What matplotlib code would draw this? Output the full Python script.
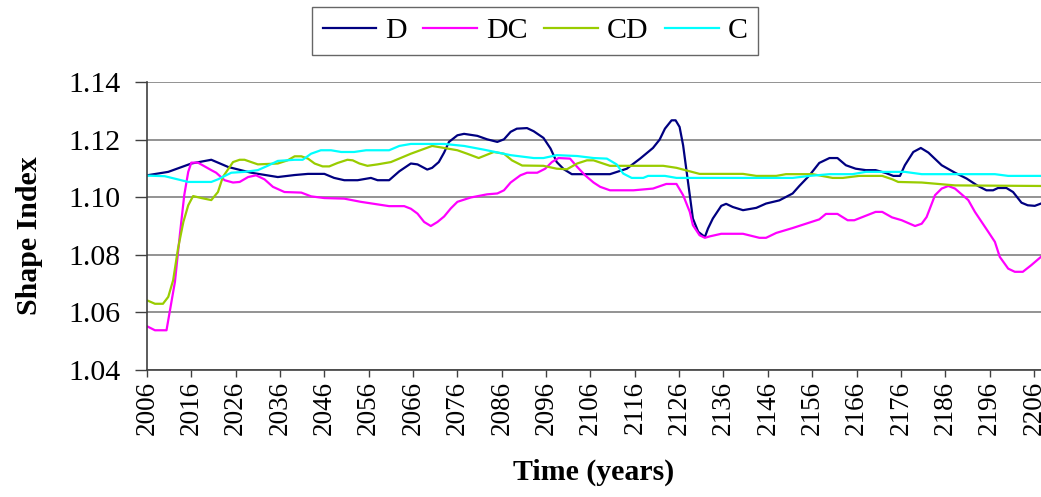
import matplotlib
matplotlib.use("Agg")
import matplotlib.pyplot as plt
from matplotlib.ticker import FormatStrFormatter, MultipleLocator

plt.rcParams["font.family"] = ["Liberation Serif", "DejaVu Serif"]

# Shape index trajectories for the four scenarios
d_years = [2006, 2010.8, 2016, 2020.5, 2024.3, 2029.5, 2035.5, 2039.3, 2042.3, 2046,
           2048.2, 2050.5, 2053.5, 2056.5, 2058, 2060.6, 2062.9, 2065.5, 2067, 2069.2,
           2070.3, 2071.8, 2073, 2074.1, 2076, 2077.5, 2080.5, 2082.7, 2085, 2086.5,
           2088, 2089.4, 2091.7, 2093.2, 2095.4, 2097, 2098.4, 2100, 2101.8, 2110.4,
           2114.2, 2117.2, 2120.1, 2121.6, 2122.8, 2124.3, 2125.2, 2126.1, 2126.9, 2127.6,
           2128.4, 2129.1, 2130.3, 2131.8, 2132.5, 2133.6, 2135.5, 2136.6, 2138.1, 2140.4,
           2143.4, 2145.6, 2148.6, 2151.6, 2153.1, 2155.4, 2157.6, 2159.9, 2161.7, 2163.6,
           2165.8, 2168.1, 2170.3, 2172.6, 2174.3, 2175.8, 2176.9, 2178.8, 2180.5, 2182.2,
           2185.2, 2188.2, 2190.8, 2193.4, 2195.3, 2196.8, 2197.9, 2199.8, 2201.3, 2203.2,
           2204.6, 2206.2, 2207.6]
d_vals = [1.1076, 1.1088, 1.1117, 1.1130, 1.1105, 1.1085, 1.1070, 1.1077, 1.1081, 1.1081,
          1.1067, 1.1059, 1.1059, 1.1067, 1.1059, 1.1059, 1.1090, 1.1117, 1.1114, 1.1096,
          1.1102, 1.1122, 1.1155, 1.1192, 1.1215, 1.1220, 1.1213, 1.1201, 1.1192, 1.1201,
          1.1227, 1.1238, 1.1240, 1.1229, 1.1206, 1.1169, 1.1122, 1.1097, 1.1080, 1.1080,
          1.1099, 1.1134, 1.1171, 1.1200, 1.1238, 1.1267, 1.1267, 1.1244, 1.1180, 1.1099,
          1.1007, 1.0926, 1.0880, 1.0862, 1.0891, 1.0926, 1.0970, 1.0977, 1.0966, 1.0955,
          1.0963, 1.0978, 1.0989, 1.1013, 1.1039, 1.1076, 1.1119, 1.1136, 1.1136, 1.1111,
          1.1099, 1.1094, 1.1094, 1.1084, 1.1074, 1.1074, 1.1111, 1.1157, 1.1171, 1.1155,
          1.1111, 1.1085, 1.1065, 1.1039, 1.1024, 1.1024, 1.1032, 1.1032, 1.1018, 1.0981,
          1.0972, 1.0970, 1.0978]

dc_years = [2006, 2007.8, 2010.4, 2011.1, 2012.3, 2013.4, 2014.4, 2015.3, 2016, 2017.5,
            2020.5, 2021.6, 2023.5, 2025.4, 2026.9, 2028.8, 2030.6, 2032.5, 2034.4, 2037,
            2040.8, 2043, 2046, 2050.5, 2054.2, 2060.6, 2064, 2065.5, 2067, 2068.5,
            2070, 2071.5, 2073, 2074.5, 2076, 2079, 2082.7, 2085, 2086.5, 2088,
            2090.2, 2091.7, 2094, 2095.8, 2097.3, 2098.8, 2101.4, 2102.9, 2104.8, 2106.7,
            2108.2, 2110.4, 2115.7, 2120.1, 2123.1, 2125.4, 2126.9, 2128.4, 2129.1, 2130.6,
            2131.8, 2132.9, 2135.5, 2140.4, 2144.1, 2145.6, 2147.9, 2151.6, 2157.6, 2159.1,
            2161.7, 2164, 2165.5, 2170.3, 2171.8, 2174, 2176.2, 2179.2, 2180.7, 2181.8,
            2183.7, 2185.2, 2186.7, 2188.2, 2191.2, 2192.7, 2195.7, 2197.2, 2198.3, 2200.2,
            2201.7, 2203.5, 2205.4, 2207.6]
dc_vals = [1.0552, 1.0538, 1.0538, 1.0600, 1.0706, 1.0868, 1.1007, 1.1088, 1.1120, 1.1120,
           1.1094, 1.1085, 1.1059, 1.1051, 1.1053, 1.1070, 1.1076, 1.1062, 1.1036, 1.1018,
           1.1016, 1.1003, 1.0997, 1.0995, 1.0984, 1.0969, 1.0969, 1.0960, 1.0943, 1.0914,
           1.0900, 1.0914, 1.0933, 1.0961, 1.0984, 1.0999, 1.1010, 1.1013, 1.1024, 1.1051,
           1.1076, 1.1085, 1.1085, 1.1099, 1.1122, 1.1136, 1.1134, 1.1107, 1.1076, 1.1051,
           1.1036, 1.1024, 1.1024, 1.1030, 1.1046, 1.1046, 1.1007, 1.0949, 1.0903, 1.0868,
           1.0859, 1.0864, 1.0873, 1.0873, 1.0859, 1.0859, 1.0876, 1.0893, 1.0923, 1.0942,
           1.0942, 1.0920, 1.0920, 1.0949, 1.0949, 1.0930, 1.0920, 1.0900, 1.0908, 1.0931,
           1.1007, 1.1030, 1.1039, 1.1030, 1.0990, 1.0949, 1.0880, 1.0845, 1.0793, 1.0752,
           1.0741, 1.0741, 1.0764, 1.0793]

cd_years = [2006, 2007.8, 2009.6, 2010.8, 2011.9, 2013, 2014.2, 2015.3, 2016.4, 2018.3,
            2020.5, 2022, 2023.1, 2025.4, 2026.9, 2028, 2031, 2035.5, 2037.7, 2039.3,
            2040.8, 2042.3, 2043.8, 2045.6, 2047.1, 2049, 2051.2, 2052.4, 2053.9, 2055.7,
            2058, 2061, 2065.5, 2070.3, 2073, 2076, 2078.2, 2080.8, 2084.2, 2086.5,
            2088.3, 2090.6, 2095.4, 2098.4, 2100.7, 2103, 2105.2, 2106.7, 2110.4, 2122.4,
            2125.4, 2130.6, 2140.4, 2143.4, 2147.9, 2150.1, 2156.1, 2160.6, 2162.9, 2166.6,
            2171.8, 2174.1, 2175.4, 2180.7, 2188.2, 2207.6]
cd_vals = [1.0642, 1.0630, 1.0630, 1.0654, 1.0712, 1.0822, 1.0914, 1.0972, 1.1004, 1.0997,
           1.0990, 1.1018, 1.1070, 1.1122, 1.1130, 1.1130, 1.1114, 1.1117, 1.1128, 1.1142,
           1.1142, 1.1134, 1.1117, 1.1107, 1.1107, 1.1119, 1.1130, 1.1128, 1.1117, 1.1109,
           1.1114, 1.1122, 1.1151, 1.1178, 1.1171, 1.1163, 1.1151, 1.1136, 1.1157, 1.1151,
           1.1128, 1.1110, 1.1109, 1.1099, 1.1097, 1.1117, 1.1128, 1.1128, 1.1109, 1.1109,
           1.1102, 1.1081, 1.1081, 1.1074, 1.1074, 1.1080, 1.1080, 1.1067, 1.1067, 1.1074,
           1.1074, 1.1062, 1.1053, 1.1051, 1.1041, 1.1039]

c_years = [2006, 2010, 2015.3, 2020.5, 2022, 2025, 2028, 2031, 2033.2, 2035.5,
           2039.3, 2041.1, 2043, 2045.2, 2047.5, 2049.8, 2052.7, 2055.4, 2060.6, 2062.9,
           2065.5, 2073, 2077.5, 2082, 2088, 2093.2, 2095.4, 2098.4, 2103, 2106.7,
           2109.7, 2111.9, 2113.4, 2115.3, 2117.9, 2119, 2122.8, 2125.4, 2151.6, 2155.4,
           2159.9, 2165.1, 2168.1, 2176.9, 2180.7, 2197.2, 2200.2, 2207.6]
c_vals = [1.1075, 1.1073, 1.1053, 1.1053, 1.1062, 1.1085, 1.1088, 1.1094, 1.1109, 1.1126,
          1.1130, 1.1130, 1.1151, 1.1163, 1.1163, 1.1157, 1.1157, 1.1163, 1.1163, 1.1178,
          1.1185, 1.1185, 1.1178, 1.1165, 1.1146, 1.1136, 1.1136, 1.1146, 1.1143, 1.1136,
          1.1134, 1.1114, 1.1082, 1.1067, 1.1067, 1.1074, 1.1074, 1.1067, 1.1067, 1.1074,
          1.1080, 1.1080, 1.1088, 1.1088, 1.1080, 1.1080, 1.1074, 1.1074]

series_names = ["D", "DC", "CD", "C"]
series_colors = ["#000080", "#FF00FF", "#99CC00", "#00FFFF"]
tick_years = list(range(2006, 2207, 10))

fig = plt.figure(figsize=(10.41, 4.97), dpi=100)
ax = fig.add_axes([0.1412, 0.2555, 0.8588, 0.5795])

for xs, ys, name, col in zip([d_years, dc_years, cd_years, c_years],
                             [d_vals, dc_vals, cd_vals, c_vals],
                             series_names, series_colors):
    ax.plot(xs, ys, color=col, lw=1.6, label=name, solid_joinstyle="round")

ax.set_xlim(2006, 2207.6)
ax.set_ylim(1.04, 1.14)
ax.yaxis.set_major_locator(MultipleLocator(0.02))
ax.yaxis.set_major_formatter(FormatStrFormatter("%.2f"))
ax.set_xticks(tick_years)
ax.set_xticklabels([str(y) for y in tick_years], rotation=90)

ax.grid(axis="y", color="#808080", lw=1.2)
ax.set_axisbelow(True)
for s in ("top", "right"):
    ax.spines[s].set_visible(False)
for s in ("left", "bottom"):
    ax.spines[s].set_color("#404040")
    ax.spines[s].set_linewidth(1.2)

ax.tick_params(axis="y", direction="out", length=8.5, width=1.0, color="#404040",
               labelsize=21.5, pad=10.5)
ax.tick_params(axis="x", direction="out", length=5, width=1.0, color="#404040",
               labelsize=19.5, pad=3)

ax.set_ylabel("Shape Index", fontsize=21.5, fontweight="bold")
ax.yaxis.set_label_coords(-0.116, 0.465)
ax.set_xlabel("Time (years)", fontsize=21.5, fontweight="bold", labelpad=17)

leg = fig.legend(loc="center", bbox_to_anchor=(0.514, 0.9376), ncol=4,
                 fontsize=21.5, frameon=True, fancybox=False, shadow=False,
                 handlelength=1.8, handletextpad=0.3, columnspacing=0.55,
                 borderpad=0.35, borderaxespad=0)
leg.get_frame().set_edgecolor("#404040")
leg.get_frame().set_linewidth(1.0)

fig.savefig("out.png", dpi=100)
